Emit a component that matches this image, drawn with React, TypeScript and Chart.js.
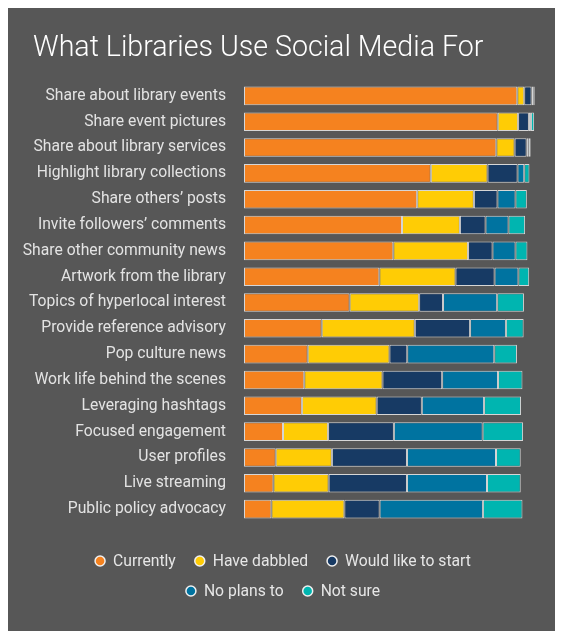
import React, { useEffect, useRef } from "react";
import { Chart, registerables } from "chart.js";

Chart.register(...registerables);

const categories = [
  "Share about library events",
  "Share event pictures",
  "Share about library services",
  "Highlight library collections",
  "Share others’ posts",
  "Invite followers’ comments",
  "Share other community news",
  "Artwork from the library",
  "Topics of hyperlocal interest",
  "Provide reference advisory",
  "Pop culture news",
  "Work life behind the scenes",
  "Leveraging hashtags",
  "Focused engagement",
  "User profiles",
  "Live streaming",
  "Public policy advocacy",
];

const currently = [93.9, 87.2, 86.7, 64.2, 59.5, 54.3, 51.3, 46.5, 36.3, 26.7, 21.9, 20.7, 19.9, 13.4, 10.9, 10.1, 9.4];
const haveDabbled = [2.4, 7.0, 6.3, 19.5, 19.5, 19.9, 25.7, 26.2, 23.9, 32.0, 28.1, 26.9, 25.7, 15.5, 19.3, 19.0, 25.1];
const wouldLikeToStart = [2.5, 3.7, 4.1, 10.3, 8.1, 8.8, 8.4, 13.4, 8.2, 19.0, 6.1, 20.5, 15.5, 22.6, 25.8, 26.9, 12.1];
const noPlansTo = [0.6, 0.7, 0.7, 2.3, 6.2, 7.9, 7.9, 8.2, 18.6, 12.3, 29.9, 19.2, 21.4, 30.5, 30.6, 27.5, 35.5];
const notSure = [0.5, 1.1, 0.7, 1.8, 3.9, 5.7, 4.1, 3.7, 9.2, 6.1, 7.8, 8.4, 12.7, 13.9, 8.5, 11.6, 13.6];

const seriesNames = ["Currently", "Have dabbled", "Would like to start", "No plans to", "Not sure"];
const seriesColors = ["#F5821F", "#FFCC05", "#173A64", "#0073A0", "#00B5B0"];
const seriesValues = [currently, haveDabbled, wouldLikeToStart, noPlansTo, notSure];
const legendRows = [[0, 1, 2], [3, 4]];

const titleText = "What Libraries Use Social Media For";

const LEGEND_FONT = "400 15.7px Roboto";
const TITLE_FONT = "300 28.6px Roboto";

const titleAndLegendPlugin = {
  id: "titleAndLegend",
  afterDraw(chart: any) {
    const ctx = chart.ctx as CanvasRenderingContext2D;
    const datasets = chart.data.datasets;
    ctx.save();
    // title
    ctx.font = TITLE_FONT;
    ctx.fillStyle = "#ffffff";
    ctx.textAlign = "left";
    ctx.textBaseline = "alphabetic";
    ctx.fillText(titleText, 25, 48);
    // legend
    const centerX = 275;
    const rowY = [553, 583];
    const gap = 19;
    const radius = 5;
    const textOffset = 13;
    ctx.font = LEGEND_FONT;
    ctx.textBaseline = "middle";
    legendRows.forEach((row, r) => {
      const widths = row.map((i) => 2 * radius + (textOffset - radius) + ctx.measureText(datasets[i].label).width);
      const total = widths.reduce((a, b) => a + b, 0) + gap * (row.length - 1);
      let x = centerX - total / 2;
      row.forEach((i, k) => {
        const cx = x + radius;
        const cy = rowY[r];
        ctx.beginPath();
        ctx.arc(cx, cy, radius, 0, Math.PI * 2);
        ctx.fillStyle = datasets[i].backgroundColor;
        ctx.fill();
        ctx.lineWidth = 1.5;
        ctx.strokeStyle = "#f0f0f0";
        ctx.stroke();
        ctx.fillStyle = "#e6e6e6";
        ctx.fillText(datasets[i].label, cx + textOffset, cy + 1);
        x += widths[k] + gap;
      });
    });
    ctx.restore();
  },
};

export default function App() {
  const canvasRef = useRef<HTMLCanvasElement | null>(null);

  useEffect(() => {
    if (!canvasRef.current) return;
    const chart = new Chart(canvasRef.current, {
      type: "bar",
      data: {
        labels: categories,
        datasets: seriesNames.map((name, i) => ({
          label: name,
          data: seriesValues[i],
          backgroundColor: seriesColors[i],
          borderColor: "#d6d6d6",
          borderWidth: 1,
          borderSkipped: false,
          barPercentage: 1,
          categoryPercentage: 0.72,
        })),
      },
      options: {
        indexAxis: "y",
        animation: false,
        responsive: false,
        maintainAspectRatio: false,
        layout: { padding: { left: 10, right: 22, top: 75, bottom: 0 } },
        scales: {
          x: {
            stacked: true,
            min: 0,
            max: 100,
            grid: { display: false, drawTicks: false },
            border: { display: false },
            ticks: { display: false },
            afterFit: (scale: any) => {
              scale.height = 109;
            },
          },
          y: {
            stacked: true,
            grid: { display: false, drawTicks: false },
            border: { display: false },
            ticks: {
              color: "#e3e3e3",
              padding: 18,
              font: { family: "Roboto", size: 15.7, weight: 400 },
            },
            afterFit: (scale: any) => {
              scale.width = 226;
            },
          },
        },
        plugins: {
          title: { display: false },
          legend: { display: false },
          tooltip: { enabled: false },
        },
      },
      plugins: [titleAndLegendPlugin],
    });
    return () => chart.destroy();
  }, []);

  return (
    <div style={{ width: 549, height: 623, background: "#575757" }}>
      <canvas ref={canvasRef} width={549} height={623} style={{ display: "block", width: 549, height: 623 }} />
    </div>
  );
}
